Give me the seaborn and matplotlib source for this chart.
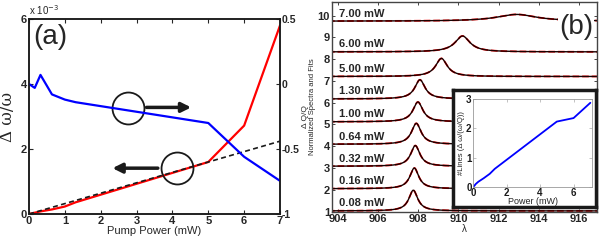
import numpy as np
import pandas as pd
import matplotlib
matplotlib.use("Agg")
import matplotlib.pyplot as plt
import seaborn as sns

sns.set_theme(style="ticks")
plt.rcParams['font.family'] = ['Liberation Sans', 'DejaVu Sans']
plt.rcParams['xtick.direction'] = 'in'
plt.rcParams['ytick.direction'] = 'in'

# ---- panel (a) data ----
power = [0, 0.16, 0.32, 0.64, 1.0, 1.3, 5, 6, 7]
dw_w = [0, 0.04, 0.08, 0.14, 0.23, 0.36, 1.6, 2.72, 5.8]          # x 1e-3
dq_q = [0.0, -0.03, 0.07, -0.08, -0.12, -0.14, -0.30, -0.56, -0.745]
lin_power = [0, 7]
lin_fit = [0, 2.24]                                                # x 1e-3

# ---- panel (b) data: Lorentzian fit parameters per pump power ----
labels = ["0.08 mW", "0.16 mW", "0.32 mW", "0.64 mW", "1.00 mW",
          "1.30 mW", "5.00 mW", "6.00 mW", "7.00 mW"]
baseline = [1.03, 2.05, 3.08, 4.09, 5.12, 6.17, 7.20, 8.33, 9.74]
height = [0.95, 0.95, 0.95, 0.96, 0.91, 0.88, 0.83, 0.73, 0.31]
center = [907.75, 907.8, 907.85, 907.9, 907.98, 908.08, 909.15, 910.2, 912.9]
hwhm = [0.27, 0.27, 0.28, 0.29, 0.30, 0.31, 0.35, 0.45, 1.2]

# ---- inset data ----
in_power = [0, 0.08, 0.16, 0.32, 0.64, 1.0, 1.3, 5, 6, 7]
in_lines = [0, 0.04, 0.1, 0.18, 0.3, 0.45, 0.62, 2.23, 2.35, 2.87]

W, H = 603, 242
fig = plt.figure(figsize=(W / 100, H / 100), dpi=100)

def box(x0, y0, x1, y1):
    # pixel box (top-left origin) -> figure fraction rect
    return [x0 / W, (H - y1) / H, (x1 - x0) / W, (y1 - y0) / H]

# ================= panel (a) =================
ax1 = fig.add_axes(box(29, 19, 280, 214))
ax2 = ax1.twinx()
df_a = pd.DataFrame({"power": power, "dw": dw_w, "dq": dq_q})
sns.lineplot(x=lin_power, y=lin_fit, ax=ax1, color='k', lw=1.2, linestyle='--')
sns.lineplot(data=df_a, x="power", y="dw", ax=ax1, color='red', lw=1.6)
sns.lineplot(data=df_a, x="power", y="dq", ax=ax2, color='blue', lw=1.6)
ax1.lines[0].set_dashes([3, 2])
ax1.lines[0].set_zorder(4)

ax1.set_xlim(0, 7)
ax1.set_ylim(0, 6)
ax2.set_ylim(-1, 0.5)
ax1.set_xticks(range(8))
ax1.set_yticks([0, 2, 4, 6])
ax2.set_yticks([-1, -0.5, 0, 0.5])
ax2.set_yticklabels(["-1", "-0.5", "0", "0.5"])
for ax in (ax1, ax2):
    for lab in ax.get_xticklabels() + ax.get_yticklabels():
        lab.set_fontsize(8)
        lab.set_fontweight('bold')
    ax.tick_params(length=3, width=0.8, pad=1.5)
    for s in ax.spines.values():
        s.set_linewidth(1.1)
        s.set_color('k')
for lab in ax2.get_yticklabels():
    lab.set_fontsize(7.5)
ax1.tick_params(top=True)
ax1.set_xlabel("Pump Power (mW)", fontsize=8, labelpad=0)
ax1.set_ylabel("\u0394 \u03c9/\u03c9", fontsize=12, family='DejaVu Serif')
ax1.yaxis.set_label_coords(-0.052, 0.5)
ax2.set_ylabel("\u0394 Q/Q", fontsize=6)
ax2.yaxis.set_label_coords(1.088, 0.5)
ax1.text(0.0, 1.01, "x 10$^{-3}$", transform=ax1.transAxes, fontsize=7, va='bottom')
ax1.text(0.015, 0.975, "(a)", transform=ax1.transAxes, fontsize=20, va='top', ha='left')

# circles and arrows
ax1.plot([2.77], [3.27], 'o', mfc='none', mec='k', ms=23, mew=1.3, zorder=5)
ax1.plot([4.14], [1.43], 'o', mfc='none', mec='k', ms=23, mew=1.3, zorder=5)
ax1.annotate("", xy=(4.6, 3.28), xytext=(3.2, 3.28),
             arrowprops=dict(arrowstyle='-|>', lw=2.5, color='k', mutation_scale=14))
ax1.annotate("", xy=(2.25, 1.41), xytext=(3.67, 1.41),
             arrowprops=dict(arrowstyle='-|>', lw=2.5, color='k', mutation_scale=14))

# ================= panel (b) =================
axb = fig.add_axes(box(332, 2, 597, 212))
lam = np.linspace(903.5, 917.2, 700)
for lbl, b0, h0, c0, g0 in zip(labels, baseline, height, center, hwhm):
    fit = b0 + h0 / (1 + ((lam - c0) / g0) ** 2)
    sns.lineplot(x=lam, y=fit, ax=axb, color='red', lw=1.3, linestyle='--')
    sns.lineplot(x=lam, y=fit, ax=axb, color='#1a0000', lw=1.0)
    axb.text(904.05, b0 + 0.12, lbl, fontsize=8, fontweight='bold', va='bottom', ha='left')
axb.set_xlim(903.7, 916.9)
axb.set_ylim(0.98, 10.62)
axb.set_xticks([904, 906, 908, 910, 912, 914, 916])
axb.set_yticks(range(1, 11))
for lab in axb.get_xticklabels() + axb.get_yticklabels():
    lab.set_fontsize(8)
    lab.set_fontweight('bold')
axb.tick_params(length=2.5, width=0.6, pad=1.5, top=True, right=True)
for s in axb.spines.values():
    s.set_linewidth(1.0)
    s.set_color('#444444')
axb.set_xlabel("\u03bb", fontsize=7, labelpad=0)
axb.set_ylabel("Normalized Spectra and Fits", fontsize=5.5)
axb.yaxis.set_label_coords(-0.062, 0.5)
axb.text(0.985, 0.88, "(b)", transform=axb.transAxes, fontsize=20, va='center', ha='right',
         bbox=dict(facecolor='white', edgecolor='none', pad=0.5))

# inset frame
frame = fig.add_axes(box(453, 90, 596, 207))
frame.set_xticks([])
frame.set_yticks([])
frame.set_facecolor('white')
for s in frame.spines.values():
    s.set_linewidth(2.5)
    s.set_color('k')

axi = fig.add_axes(box(473, 99, 592, 187))
sns.lineplot(x=in_power, y=in_lines, ax=axi, color='blue', lw=1.3)
axi.set_xlim(0, 7.1)
axi.set_ylim(0, 3)
axi.set_xticks([0, 2, 4, 6])
axi.set_yticks([0, 1, 2, 3])
for lab in axi.get_xticklabels() + axi.get_yticklabels():
    lab.set_fontsize(7)
    lab.set_fontweight('bold')
axi.tick_params(length=2, width=0.5, pad=1, top=True, right=True, colors='#aaaaaa',
                labelcolor='k')
for s in axi.spines.values():
    s.set_linewidth(0.6)
    s.set_color('#999999')
axi.set_xlabel("Power (mW)", fontsize=6.5, labelpad=-1)
axi.set_ylabel("#Lines (\u0394 \u03c9/(\u03c9/Q))", fontsize=5.5, labelpad=1)

fig.savefig("out.png", dpi=100)
